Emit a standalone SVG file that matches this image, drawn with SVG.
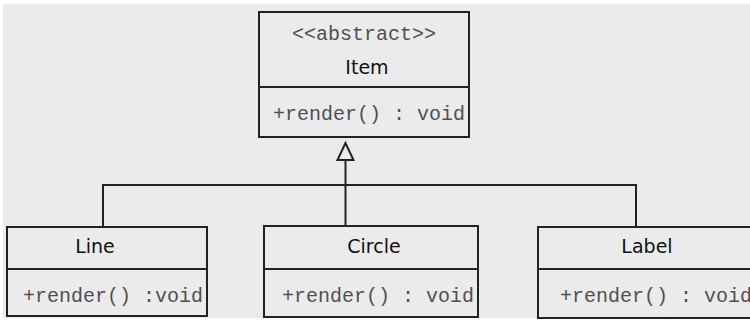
<svg xmlns="http://www.w3.org/2000/svg" width="750" height="324" viewBox="0 0 750 324">
<style>
.box{fill:#ebebeb;stroke:#222;stroke-width:2}
.div{stroke:#222;stroke-width:2}
.name{font-family:"DejaVu Sans",sans-serif;font-size:19px;fill:#111;text-anchor:middle}
.mono{font-family:"Liberation Mono","Courier New",monospace;font-size:20px;fill:#505050}
.conn{fill:none;stroke:#222;stroke-width:2}
</style>
<rect x="0" y="0" width="750" height="324" fill="#ffffff"/>
<rect x="3" y="4" width="747" height="314" fill="#ebebeb"/>
<g id="connectors">
<polyline class="conn" points="103,227 103,185 636,185 636,227"/>
<line class="conn" x1="345.5" y1="160" x2="345.5" y2="226"/>
<polygon points="345.5,143 337.5,160 353.5,160" fill="#ebebeb" stroke="#222" stroke-width="2"/>
</g>
<g id="item">
<rect class="box" x="259" y="12" width="210" height="125"/>
<line class="div" x1="259" y1="87" x2="469" y2="87"/>
<text class="mono" x="364" y="40" text-anchor="middle">&lt;&lt;abstract&gt;&gt;</text>
<text class="name" x="367" y="74">Item</text>
<text class="mono" x="273" y="120">+render() : void</text>
</g>
<g id="line">
<rect class="box" x="7" y="227" width="200" height="89"/>
<line class="div" x1="7" y1="269" x2="207" y2="269"/>
<text class="name" x="95" y="253">Line</text>
<text class="mono" x="23" y="302">+render() :void</text>
</g>
<g id="circle">
<rect class="box" x="264" y="226" width="214" height="91"/>
<line class="div" x1="264" y1="269" x2="478" y2="269"/>
<text class="name" x="374" y="253">Circle</text>
<text class="mono" x="282" y="302">+render() : void</text>
</g>
<g id="label">
<rect class="box" x="538" y="227" width="220" height="91"/>
<line class="div" x1="538" y1="269" x2="758" y2="269"/>
<text class="name" x="647" y="253">Label</text>
<text class="mono" x="560" y="302">+render() : void</text>
</g>
</svg>
